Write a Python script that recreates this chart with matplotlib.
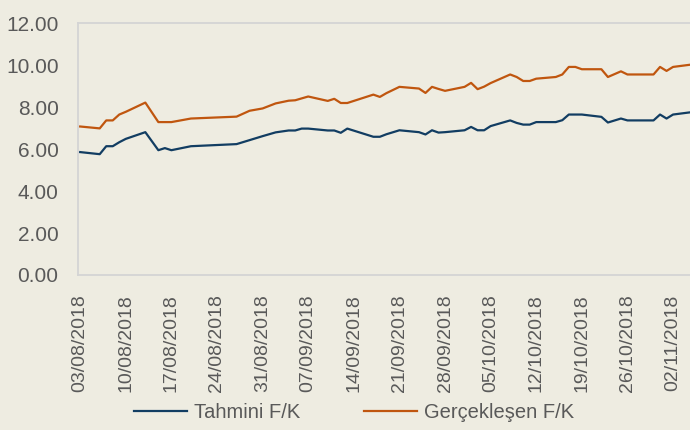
import matplotlib
matplotlib.use("Agg")
import matplotlib.pyplot as plt
import matplotlib.dates as mdates
import pandas as pd

# Tarihler ve F/K değerleri
tarihler = [
    "2018-08-03", "2018-08-06", "2018-08-07", "2018-08-08", "2018-08-09", "2018-08-10",
    "2018-08-13", "2018-08-15", "2018-08-16", "2018-08-17", "2018-08-20", "2018-08-27",
    "2018-08-29", "2018-08-31", "2018-09-02", "2018-09-04", "2018-09-05", "2018-09-06",
    "2018-09-07", "2018-09-10", "2018-09-11", "2018-09-12", "2018-09-13", "2018-09-17",
    "2018-09-18", "2018-09-19", "2018-09-21", "2018-09-24", "2018-09-25", "2018-09-26",
    "2018-09-27", "2018-09-28", "2018-10-01", "2018-10-02", "2018-10-03", "2018-10-04",
    "2018-10-05", "2018-10-08", "2018-10-09", "2018-10-10", "2018-10-11", "2018-10-12",
    "2018-10-15", "2018-10-16", "2018-10-17", "2018-10-18", "2018-10-19", "2018-10-22",
    "2018-10-23", "2018-10-25", "2018-10-26", "2018-10-30", "2018-10-31", "2018-11-01",
    "2018-11-02", "2018-11-05",
]
tahmini_fk = [
    5.86, 5.76, 6.14, 6.14, 6.33, 6.49,
    6.81, 5.95, 6.05, 5.95, 6.14, 6.24,
    6.43, 6.62, 6.80, 6.89, 6.89, 6.98,
    6.98, 6.89, 6.89, 6.78, 6.98, 6.59,
    6.59, 6.71, 6.90, 6.81, 6.70, 6.90,
    6.79, 6.81, 6.90, 7.06, 6.90, 6.90,
    7.10, 7.37, 7.25, 7.17, 7.17, 7.29,
    7.29, 7.38, 7.65, 7.65, 7.65, 7.54,
    7.27, 7.46, 7.37, 7.37, 7.65, 7.46,
    7.65, 7.77,
]
gerceklesen_fk = [
    7.08, 6.99, 7.37, 7.37, 7.65, 7.78,
    8.22, 7.29, 7.29, 7.29, 7.46, 7.55,
    7.83, 7.94, 8.18, 8.31, 8.33, 8.42,
    8.51, 8.30, 8.40, 8.20, 8.20, 8.60,
    8.49, 8.67, 8.97, 8.89, 8.68, 8.97,
    8.87, 8.78, 8.97, 9.16, 8.86, 8.98,
    9.15, 9.56, 9.44, 9.25, 9.25, 9.36,
    9.44, 9.56, 9.92, 9.92, 9.81, 9.81,
    9.44, 9.71, 9.56, 9.56, 9.92, 9.73,
    9.92, 10.04,
]
yticks = [0, 2, 4, 6, 8, 10, 12]

arka = "#EEECE1"
yazi = "#595959"
cerceve = "#D4D4D4"

plt.rcParams["font.family"] = ["Liberation Sans", "DejaVu Sans"]

x = pd.to_datetime(tarihler)

fig = plt.figure(figsize=(6.9, 4.3), dpi=100, facecolor=arka)
ax = fig.add_axes([78 / 690, 1 - 275 / 430, 1 - 78 / 690, (275 - 23.3) / 430])
ax.set_facecolor(arka)

ax.plot(x, tahmini_fk, color="#123D62", lw=1.6, label="Tahmini F/K")
ax.plot(x, gerceklesen_fk, color="#C0560F", lw=1.6, label="Gerçekleşen F/K")

ax.set_ylim(0, 12)
ax.set_yticks(yticks)
ax.set_yticklabels([f"{v:.2f}" for v in yticks])

basla = pd.Timestamp("2018-08-03")
ax.set_xlim(basla - pd.Timedelta(hours=8), basla + pd.Timedelta(days=93.6))
ax.set_xticks(pd.date_range("2018-08-03", "2018-11-02", freq="7D"))
ax.xaxis.set_major_formatter(mdates.DateFormatter("%d/%m/%Y"))

ax.tick_params(axis="y", length=0, labelsize=15, colors=yazi, pad=14)
ax.tick_params(axis="x", length=0, labelsize=14, colors=yazi, pad=14, labelrotation=90)

for s in ["left", "top", "bottom"]:
    ax.spines[s].set_color(cerceve)
    ax.spines[s].set_linewidth(1.3)
ax.spines["right"].set_visible(False)

fig.legend(loc="center", bbox_to_anchor=(0.513, 1 - 413 / 430), ncol=2,
           frameon=False, fontsize=14.5, labelcolor=yazi, handlelength=2.6,
           handletextpad=0.35, columnspacing=3.2)

fig.savefig("out.png", dpi=100, facecolor=arka)
